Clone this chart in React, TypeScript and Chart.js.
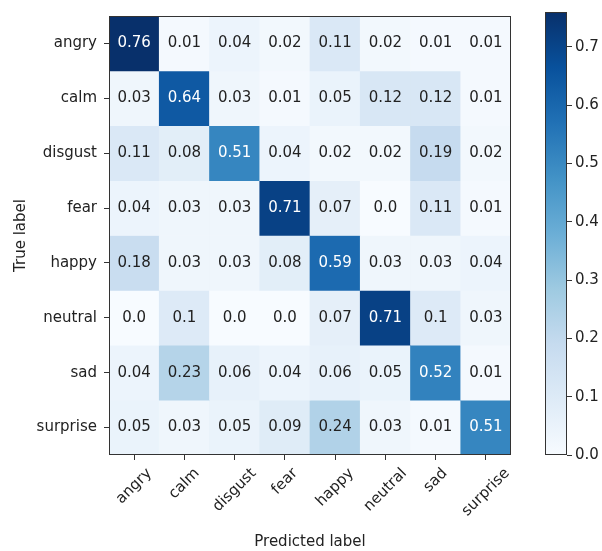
import React, { useEffect, useRef } from "react";
import { Chart, registerables } from "chart.js";

Chart.register(...registerables);

const predictedLabels = ["angry", "calm", "disgust", "fear", "happy", "neutral", "sad", "surprise"];
const trueLabels = ["angry", "calm", "disgust", "fear", "happy", "neutral", "sad", "surprise"];

const rowAngry = [0.76, 0.01, 0.04, 0.02, 0.11, 0.02, 0.01, 0.01];
const rowCalm = [0.03, 0.64, 0.03, 0.01, 0.05, 0.12, 0.12, 0.01];
const rowDisgust = [0.11, 0.08, 0.51, 0.04, 0.02, 0.02, 0.19, 0.02];
const rowFear = [0.04, 0.03, 0.03, 0.71, 0.07, 0.0, 0.11, 0.01];
const rowHappy = [0.18, 0.03, 0.03, 0.08, 0.59, 0.03, 0.03, 0.04];
const rowNeutral = [0.0, 0.1, 0.0, 0.0, 0.07, 0.71, 0.1, 0.03];
const rowSad = [0.04, 0.23, 0.06, 0.04, 0.06, 0.05, 0.52, 0.01];
const rowSurprise = [0.05, 0.03, 0.05, 0.09, 0.24, 0.03, 0.01, 0.51];

const matrixRows = [rowAngry, rowCalm, rowDisgust, rowFear, rowHappy, rowNeutral, rowSad, rowSurprise];
const colorbarTicks = [0.0, 0.1, 0.2, 0.3, 0.4, 0.5, 0.6, 0.7];

const BLUES = ["#f7fbff", "#deebf7", "#c6dbef", "#9ecae1", "#6baed6", "#4292c6", "#2171b5", "#08519c", "#08306b"];
const FONT = "'DejaVu Sans', sans-serif";
const TEXT_DARK = "#222222";
const FRAME = "#333333";

function hexToRgb(h: string) {
  const n = parseInt(h.slice(1), 16);
  return [(n >> 16) & 255, (n >> 8) & 255, n & 255];
}

function blues(t: number) {
  const tt = Math.max(0, Math.min(1, t)) * (BLUES.length - 1);
  const i = Math.min(BLUES.length - 2, Math.floor(tt));
  const f = tt - i;
  const a = hexToRgb(BLUES[i]);
  const b = hexToRgb(BLUES[i + 1]);
  const c = a.map((v, k) => Math.round(v + (b[k] - v) * f));
  return `rgb(${c[0]},${c[1]},${c[2]})`;
}

const vmax = Math.max(...matrixRows.map((r) => Math.max(...r)));

function fmt(v: number) {
  return Number.isInteger(v) ? v.toFixed(1) : String(v);
}

const framePlugin = {
  id: "frame",
  afterDatasetsDraw(chart: any) {
    const a = chart.chartArea;
    const ctx = chart.ctx;
    ctx.save();
    ctx.strokeStyle = FRAME;
    ctx.lineWidth = 1;
    ctx.strokeRect(Math.round(a.left) + 0.5, Math.round(a.top) + 0.5, Math.round(a.right - a.left) - 1, Math.round(a.bottom - a.top) - 1);
    ctx.restore();
  },
};

const cellTextPlugin = {
  id: "cellText",
  afterDatasetsDraw(chart: any) {
    const ctx = chart.ctx;
    ctx.save();
    ctx.font = `15px ${FONT}`;
    ctx.textAlign = "center";
    ctx.textBaseline = "middle";
    matrixRows.forEach((row, r) => {
      const meta = chart.getDatasetMeta(r);
      meta.data.forEach((el: any, c: number) => {
        const v = row[c];
        ctx.fillStyle = v > vmax / 2 ? "#ffffff" : TEXT_DARK;
        ctx.fillText(fmt(v), el.x, (el.y + el.base) / 2);
      });
    });
    ctx.restore();
  },
};

const xLabelPlugin = {
  id: "xLabels",
  afterDraw(chart: any) {
    const ctx = chart.ctx;
    const xs = chart.scales.x;
    const a = chart.chartArea;
    ctx.save();
    ctx.font = `15px ${FONT}`;
    ctx.fillStyle = TEXT_DARK;
    ctx.textAlign = "center";
    ctx.textBaseline = "middle";
    const h = 17;
    const top = a.bottom + 5 + 5;
    predictedLabels.forEach((lab, i) => {
      const w = ctx.measureText(lab).width;
      const x = xs.getPixelForValue(i);
      const bh = (w + h) * Math.SQRT1_2;
      ctx.save();
      ctx.translate(x, top + bh / 2);
      ctx.rotate(-Math.PI / 4);
      ctx.fillText(lab, 0, 0);
      ctx.restore();
    });
    ctx.restore();
  },
};

export default function App() {
  const mainRef = useRef<HTMLCanvasElement>(null);
  const cbRef = useRef<HTMLCanvasElement>(null);

  useEffect(() => {
    const datasets = matrixRows.map((row, r) => ({
      label: trueLabels[r],
      data: row.map(() => [r, r + 1]),
      backgroundColor: row.map((v) => blues(v / vmax)),
      borderWidth: 0,
      barPercentage: 1,
      categoryPercentage: 1,
      grouped: false,
    }));

    const main = new Chart(mainRef.current!, {
      type: "bar",
      data: { labels: predictedLabels, datasets: datasets as any },
      options: {
        animation: false,
        responsive: false,
        devicePixelRatio: 1,
        layout: { padding: { left: 0, top: 12, right: 19, bottom: 0 } },
        plugins: { legend: { display: false }, tooltip: { enabled: false } },
        scales: {
          x: {
            type: "category",
            offset: true,
            grid: { display: true, drawOnChartArea: false, drawTicks: true, tickLength: 5, color: FRAME, offset: false },
            border: { display: false },
            ticks: { display: false, autoSkip: false },
            title: {
              display: true,
              text: "Predicted label",
              font: { family: FONT, size: 15 },
              color: TEXT_DARK,
              padding: { top: 0, bottom: 0 },
            },
            afterFit: (s: any) => {
              s.height = 96;
            },
          },
          y: {
            type: "linear",
            min: 0,
            max: trueLabels.length,
            reverse: true,
            grid: { display: true, drawOnChartArea: false, drawTicks: true, tickLength: 5, color: FRAME },
            border: { display: false },
            afterBuildTicks: (s: any) => {
              s.ticks = trueLabels.map((_, i) => ({ value: i + 0.5 }));
            },
            ticks: {
              autoSkip: false,
              padding: 7,
              color: TEXT_DARK,
              font: { family: FONT, size: 15 },
              callback: (v: any) => trueLabels[Math.floor(Number(v))],
            },
            title: {
              display: true,
              text: "True label",
              font: { family: FONT, size: 15 },
              color: TEXT_DARK,
              padding: { top: 12, bottom: 0 },
            },
            afterFit: (s: any) => {
              s.width = 109;
            },
          },
        },
      },
      plugins: [cellTextPlugin, framePlugin, xLabelPlugin],
    });

    const cb = new Chart(cbRef.current!, {
      type: "bar",
      data: {
        labels: ["cb"],
        datasets: [
          {
            data: [[0, vmax]] as any,
            borderWidth: 0,
            barPercentage: 1,
            categoryPercentage: 1,
            backgroundColor: (ctx: any) => {
              const a = ctx.chart.chartArea;
              if (!a) return BLUES[4];
              const g = ctx.chart.ctx.createLinearGradient(0, a.bottom, 0, a.top);
              BLUES.forEach((c, i) => g.addColorStop(i / (BLUES.length - 1), c));
              return g;
            },
          },
        ],
      },
      options: {
        animation: false,
        responsive: false,
        devicePixelRatio: 1,
        layout: { padding: { left: 15, top: 12, right: 0, bottom: 96 } },
        plugins: { legend: { display: false }, tooltip: { enabled: false } },
        scales: {
          x: { display: false },
          y: {
            type: "linear",
            position: "right",
            min: 0,
            max: vmax,
            grid: { display: true, drawOnChartArea: false, drawTicks: true, tickLength: 5, color: FRAME },
            border: { display: false },
            afterBuildTicks: (s: any) => {
              s.ticks = colorbarTicks.map((v) => ({ value: v }));
            },
            ticks: {
              padding: 3,
              color: TEXT_DARK,
              font: { family: FONT, size: 15 },
              callback: (v: any) => Number(v).toFixed(1),
            },
            afterFit: (s: any) => {
              s.width = 35;
            },
          },
        },
      },
      plugins: [framePlugin],
    });

    return () => {
      main.destroy();
      cb.destroy();
    };
  }, []);

  return (
    <div style={{ position: "fixed", left: 0, top: 0, width: 602, height: 551, background: "#ffffff" }}>
      <canvas ref={mainRef} width={530} height={551} style={{ position: "absolute", left: 0, top: 0 }} />
      <canvas ref={cbRef} width={72} height={551} style={{ position: "absolute", left: 530, top: 0 }} />
    </div>
  );
}
